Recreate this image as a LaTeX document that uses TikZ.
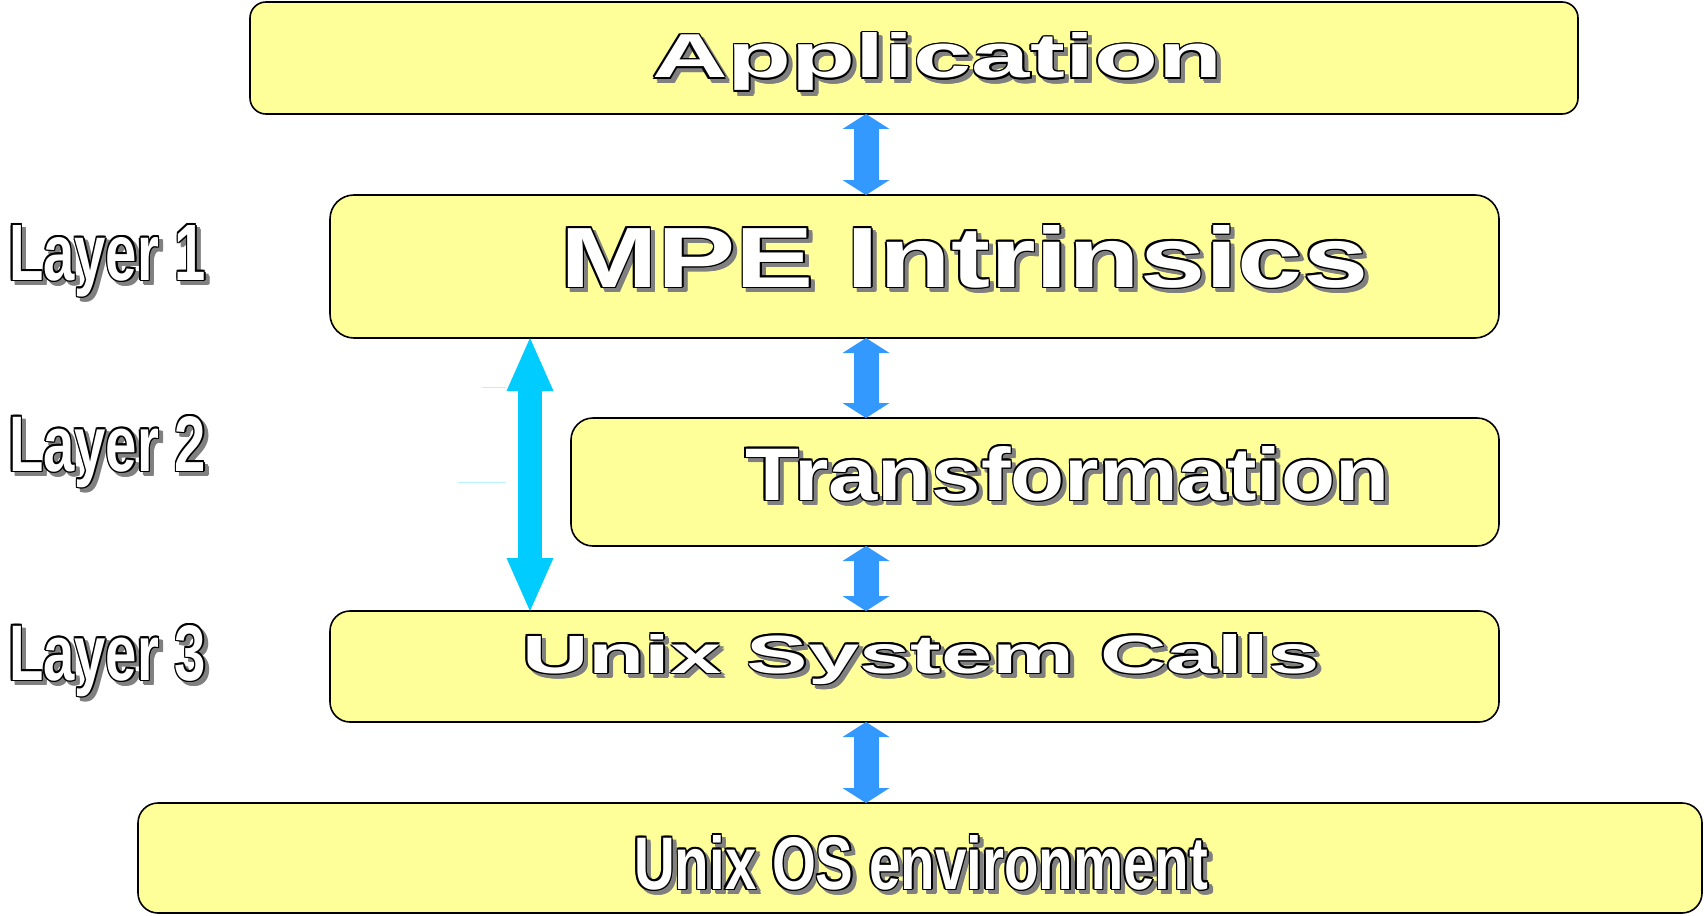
\documentclass[tikz,border=0pt]{standalone}
\usepackage{fontspec}
\setmainfont{Liberation Sans}
\usetikzlibrary{arrows.meta}
\definecolor{boxfill}{HTML}{FFFF99}
\definecolor{arrblue}{HTML}{3399FF}
\definecolor{arrcyan}{HTML}{00CCFF}
\definecolor{shadowgray}{HTML}{808080}
\definecolor{faintcyan}{HTML}{B8F2FF}
\tikzset{
  layerbox/.style={draw=black, line width=1.6pt, fill=boxfill, inner sep=0pt, outer sep=0pt},
  txt/.style={inner sep=0pt, outer sep=0pt, anchor=base west, font=\bfseries},
  linkarrow/.style={draw=arrblue, line width=25pt,
    {Triangle[width=47pt,length=15pt,line width=0pt]}-{Triangle[width=47pt,length=15pt,line width=0pt]}},
  bigarrow/.style={draw=arrcyan, line width=24pt,
    {Triangle[width=47pt,length=53pt,line width=0pt]}-{Triangle[width=47pt,length=53pt,line width=0pt]}},
  faint/.style={draw=faintcyan, line width=1pt},
}
\newcommand\tcopy[5]{\node[txt,text=#1,xshift=#2pt,yshift=#3pt] at (#4) {#5};}
\newcommand\ringcopies[5]{%
  \tcopy{#1}{\fpeval{#2+1.6}}{\fpeval{#3}}{#4}{#5}%
  \tcopy{#1}{\fpeval{#2+1.13}}{\fpeval{#3+1.13}}{#4}{#5}%
  \tcopy{#1}{\fpeval{#2}}{\fpeval{#3+1.6}}{#4}{#5}%
  \tcopy{#1}{\fpeval{#2-1.13}}{\fpeval{#3+1.13}}{#4}{#5}%
  \tcopy{#1}{\fpeval{#2-1.6}}{\fpeval{#3}}{#4}{#5}%
  \tcopy{#1}{\fpeval{#2-1.13}}{\fpeval{#3-1.13}}{#4}{#5}%
  \tcopy{#1}{\fpeval{#2}}{\fpeval{#3-1.6}}{#4}{#5}%
  \tcopy{#1}{\fpeval{#2+1.13}}{\fpeval{#3-1.13}}{#4}{#5}%
}
\newcommand\shadowtext[3]{%
  \ringcopies{shadowgray}{4}{-4}{#2}{#3}%
  \ringcopies{black}{0}{0}{#2}{#3}%
  \node[txt,text=white] (#1) at (#2) {#3};%
}
\begin{document}
\begin{tikzpicture}[x=1pt,y=-1pt]
\useasboundingbox[fill=white] (0,0) rectangle (1704,915);

% boxes
\node[layerbox, rounded corners=16pt, minimum width=1328pt, minimum height=112pt] (app) at (914,58) {};
\node[layerbox, rounded corners=24pt, minimum width=1169pt, minimum height=143pt] (mpe) at (914.5,266.5) {};
\node[layerbox, rounded corners=22pt, minimum width=928pt, minimum height=128pt] (trans) at (1035,482) {};
\node[layerbox, rounded corners=20pt, minimum width=1169pt, minimum height=111pt] (usc) at (914.5,666.5) {};
\node[layerbox, rounded corners=20pt, minimum width=1564pt, minimum height=110pt] (env) at (920,858) {};

% arrows
\coordinate (ax) at (866,0);
\coordinate (bx) at (530,0);
\draw[linkarrow] (app.south -| ax) -- (mpe.north -| ax);
\draw[linkarrow] (mpe.south -| ax) -- (trans.north -| ax);
\draw[linkarrow] (trans.south -| ax) -- (usc.north -| ax);
\draw[linkarrow] (usc.south -| ax) -- (env.north -| ax);
\draw[bigarrow] (mpe.south -| bx) -- (usc.north -| bx);

% faint lines
\coordinate (f1a) at (482,387);
\coordinate (f1b) at (506,387);
\coordinate (f2a) at (458,482);
\coordinate (f2b) at (506,482);
\draw[faint] (f1a) -- (f1b);
\draw[faint] (f2a) -- (f2b);

% texts
\shadowtext{tapp}{652,78}{\resizebox{570pt}{45pt}{Application}}
\shadowtext{tmpe}{560,287}{\resizebox{808pt}{62pt}{MPE Intrinsics}}
\shadowtext{ttrans}{745,500}{\resizebox{644pt}{54pt}{Transformation}}
\shadowtext{tusc}{522,673}{\resizebox{798pt}{39pt}{Unix System Calls}}
\shadowtext{tenv}{634,889}{\resizebox{574pt}{54pt}{Unix OS environment}}
\shadowtext{l1}{9,280}{\resizebox{197pt}{55pt}{Layer 1}}
\shadowtext{l2}{9,471}{\resizebox{197pt}{55pt}{Layer 2}}
\shadowtext{l3}{9,680}{\resizebox{197pt}{55pt}{Layer 3}}
\end{tikzpicture}
\end{document}
